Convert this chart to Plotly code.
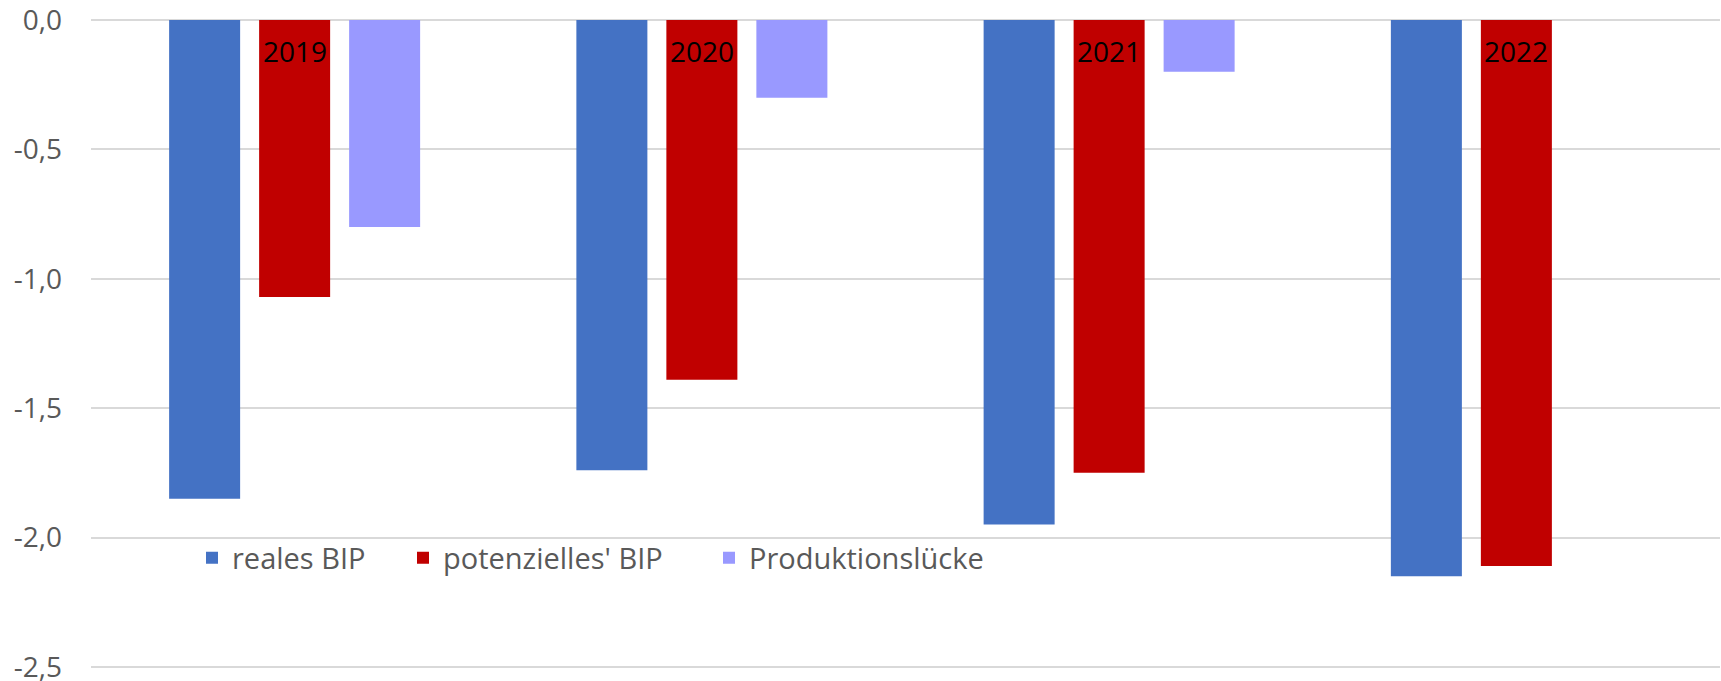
import plotly.graph_objects as go

years = ["2019", "2020", "2021", "2022"]
reales_bip = [-1.85, -1.74, -1.95, -2.15]
potenzielles_bip = [-1.07, -1.39, -1.75, -2.11]
produktionsluecke = [-0.8, -0.3, -0.2, 0.0]

y_tickvals = [0.0, -0.5, -1.0, -1.5, -2.0, -2.5]
y_ticktext = ["0,0", "-0,5", "-1,0", "-1,5", "-2,0", "-2,5"]

W, H = 1721, 681
Y_LO, Y_HI = -2.512, 0.012
PX_PER_UNIT = 258.8
ML, MR = 91, 1
MT = 20 - Y_HI * PX_PER_UNIT
MB = H - 667 - (-2.5 - Y_LO) * PX_PER_UNIT
PW, PH = W - ML - MR, H - MT - MB
GRAY = "#595959"
FONT = "Open Sans"

fig = go.Figure()
fig.add_trace(go.Bar(x=years, y=reales_bip, name="reales BIP",
                     marker=dict(color="#4472C4", line=dict(width=0)), legend="legend"))
fig.add_trace(go.Bar(x=years, y=potenzielles_bip, name="potenzielles' BIP",
                     marker=dict(color="#C00000", line=dict(width=0)), legend="legend2"))
fig.add_trace(go.Bar(x=years, y=produktionsluecke, name="Produktionslücke",
                     marker=dict(color="#9999FF", line=dict(width=0)), legend="legend3"))

for i, yr in enumerate(years):
    fig.add_annotation(x=i, y=0, xref="x", yref="y", text=yr, showarrow=False,
                       yanchor="middle", yshift=-31,
                       font=dict(family=FONT, size=28, color="#000000"))

leg_y = (H - MB - 558) / PH
leg_common = dict(orientation="h", xref="paper", yref="paper",
                  xanchor="left", yanchor="middle", y=leg_y,
                  bgcolor="rgba(0,0,0,0)", borderwidth=0,
                  font=dict(family=FONT, size=29, color=GRAY))

fig.update_layout(
    width=W, height=H,
    margin=dict(l=ML, r=MR, t=MT, b=MB, autoexpand=False),
    paper_bgcolor="white", plot_bgcolor="white",
    barmode="group", bargap=0.337, bargroupgap=0.211,
    showlegend=True,
    legend=dict(x=(192 - ML) / PW, **leg_common),
    legend2=dict(x=(403 - ML) / PW, **leg_common),
    legend3=dict(x=(709 - ML) / PW, **leg_common),
    xaxis=dict(type="category", range=[-0.5, len(years) - 0.5], showticklabels=False,
               showgrid=False, zeroline=False, showline=False, ticks=""),
    yaxis=dict(range=[Y_LO, Y_HI], tickvals=y_tickvals, ticktext=y_ticktext,
               showgrid=True, gridcolor="#D9D9D9", gridwidth=1.5,
               zeroline=True, zerolinecolor="#D9D9D9", zerolinewidth=1.5,
               showline=False, ticks="", ticklabelstandoff=28,
               ticklabeloverflow="allow",
               tickfont=dict(family=FONT, size=28, color=GRAY)),
)

fig.write_html("out.html")
